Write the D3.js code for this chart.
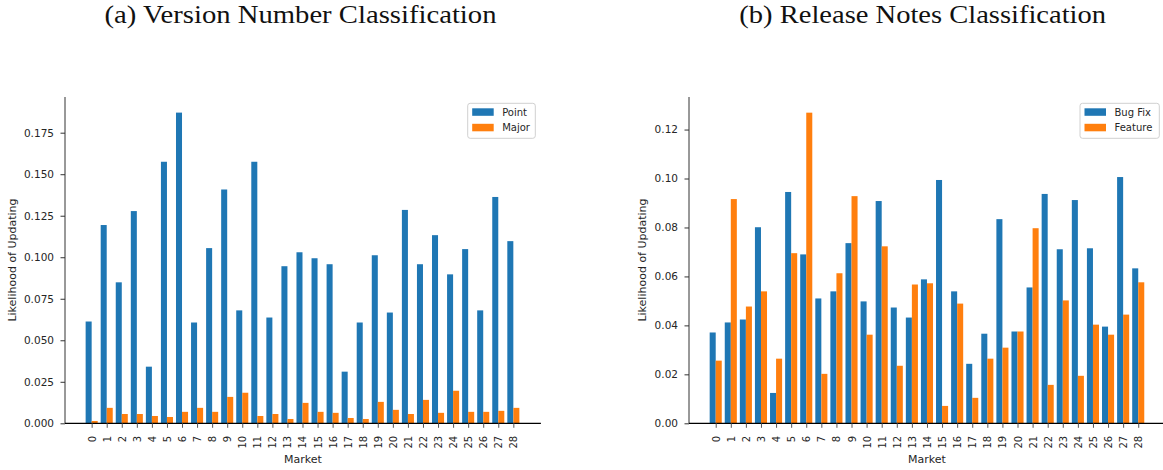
<!DOCTYPE html>
<html><head><meta charset="utf-8">
<script src="https://cdn.jsdelivr.net/npm/d3@7"></script>
<style>
body{margin:0;background:#fff;}
svg text{font-family:"DejaVu Sans",sans-serif;}
</style></head>
<body><svg id="c" width="1163" height="470"></svg>
<script>
const markets = d3.range(0, 29).map(String);
const pointVals = [0.0613,0.1194,0.0849,0.1278,0.0341,0.1575,0.1871,0.0607,0.1055,0.1408,0.0680,0.1575,0.0637,0.0946,0.1030,0.0994,0.0958,0.0311,0.0607,0.1012,0.0667,0.1285,0.0958,0.1133,0.0897,0.1049,0.0680,0.1363,0.1097];
const majorVals = [0.0014,0.0093,0.0056,0.0056,0.0044,0.0038,0.0069,0.0093,0.0069,0.0159,0.0184,0.0044,0.0056,0.0026,0.0123,0.0069,0.0063,0.0032,0.0026,0.0129,0.0081,0.0056,0.0141,0.0063,0.0196,0.0069,0.0069,0.0075,0.0093];
const bugFixVals = [0.0371,0.0412,0.0424,0.0801,0.0124,0.0945,0.0690,0.0510,0.0539,0.0736,0.0498,0.0908,0.0473,0.0432,0.0588,0.0994,0.0539,0.0243,0.0366,0.0834,0.0375,0.0555,0.0937,0.0711,0.0912,0.0715,0.0395,0.1006,0.0633];
const featureVals = [0.0256,0.0916,0.0477,0.0539,0.0264,0.0695,0.1269,0.0202,0.0613,0.0928,0.0362,0.0723,0.0235,0.0567,0.0572,0.0071,0.0489,0.0104,0.0264,0.0309,0.0375,0.0797,0.0157,0.0502,0.0194,0.0403,0.0362,0.0444,0.0576];
const leftTicks = [0,0.025,0.05,0.075,0.1,0.125,0.15,0.175];
const rightTicks = [0,0.02,0.04,0.06,0.08,0.10,0.12];
const titles = ["(a) Version Number Classification","(b) Release Notes Classification"];
const leftSeries = ["Point","Major"];
const rightSeries = ["Bug Fix","Feature"];
const colors = ["#1f77b4","#ff7f0e"];

const svg = d3.select("#c");
const textCol = "#262626";

function panel(cfg){
  const g = svg.append("g");
  const x = d3.scaleLinear().domain([-1.77, 29.83]).range([cfg.x0, cfg.x0 + 31.6*cfg.step]);
  const y = d3.scaleLinear().domain([0, cfg.ymax]).range([423.3, 97]);
  const w = 0.4;
  cfg.series.forEach((vals, si) => {
    g.append("g").selectAll("rect").data(vals).join("rect")
      .attr("x", (d,i) => si === 0 ? x(i - w) : x(i))
      .attr("width", x(w) - x(0))
      .attr("y", d => y(d))
      .attr("height", d => y(0) - y(d))
      .attr("fill", colors[si]);
  });
  const ya = g.append("g").attr("transform", `translate(${cfg.x0},0)`)
    .call(d3.axisLeft(y).tickValues(cfg.ticks).tickFormat(d3.format(cfg.fmt)).tickSize(4.5).tickPadding(6.5));
  ya.select(".domain").attr("stroke","#333").attr("stroke-width",1).attr("d", `M0,${y(0)}V97`);
  ya.selectAll(".tick line").attr("stroke","#333");
  ya.selectAll(".tick text").attr("fill",textCol).style("font-size","10.5px").style("font-family","DejaVu Sans");
  const xa = g.append("g").attr("transform", `translate(0,${y(0)})`)
    .call(d3.axisBottom(x).tickValues(d3.range(0, markets.length)).tickFormat(i => markets[i]).tickSize(4.5));
  xa.select(".domain").attr("stroke","#000").attr("stroke-width",1.2).attr("d", `M${cfg.x0},0H${x.range()[1]}`);
  xa.selectAll(".tick line").attr("stroke","#555");
  xa.selectAll(".tick text").attr("fill",textCol).style("font-size","10px").style("font-family","DejaVu Sans")
    .attr("transform","rotate(-90)").attr("text-anchor","end").attr("dy","0.35em").attr("x",-12.5).attr("y",0);
  g.append("text").attr("transform", `translate(${cfg.ylabX},260) rotate(-90)`).attr("text-anchor","middle")
    .attr("dy","0.35em").attr("fill",textCol).style("font-size","11px").text("Likelihood of Updating");
  g.append("text").attr("x", (cfg.x0 + Math.min(x.range()[1],1165))/2).attr("y", 463).attr("text-anchor","middle")
    .attr("fill",textCol).style("font-size","11px").text("Market");
  g.append("text").attr("x", cfg.titleX).attr("y", 23).attr("text-anchor","middle")
    .attr("textLength", cfg.titleW).attr("lengthAdjust","spacingAndGlyphs")
    .style("font-family","'Liberation Serif','DejaVu Serif',serif").style("font-size","26px").attr("fill","#111").text(cfg.title);
  const lg = g.append("g");
  lg.append("rect").attr("x", cfg.legX).attr("y",103.3).attr("width", cfg.legW).attr("height",35)
    .attr("rx",2.5).attr("fill","#fff").attr("fill-opacity",0.8).attr("stroke","#d0d0d0").attr("stroke-width",1);
  cfg.names.forEach((n, i) => {
    lg.append("rect").attr("x", cfg.legX + 4.5).attr("y", 108.3 + i*15.5).attr("width",21.5).attr("height",7.5).attr("fill",colors[i]);
    lg.append("text").attr("x", cfg.legX + 34.5).attr("y", 112 + i*15.5).attr("dy","0.35em")
      .attr("fill",textCol).style("font-size","10px").text(n);
  });
}

panel({x0:65, step:15.06, ymax:0.1965, ticks:leftTicks, fmt:".3f", series:[pointVals, majorVals],
  names:leftSeries, title:titles[0], titleX:300.5, titleW:392, ylabX:12, legX:467.7, legW:67.6});
panel({x0:689, step:15.09, ymax:0.1333, ticks:rightTicks, fmt:".2f", series:[bugFixVals, featureVals],
  names:rightSeries, title:titles[1], titleX:922.7, titleW:366.7, ylabX:642, legX:1080, legW:79.3});
</script></body></html>
